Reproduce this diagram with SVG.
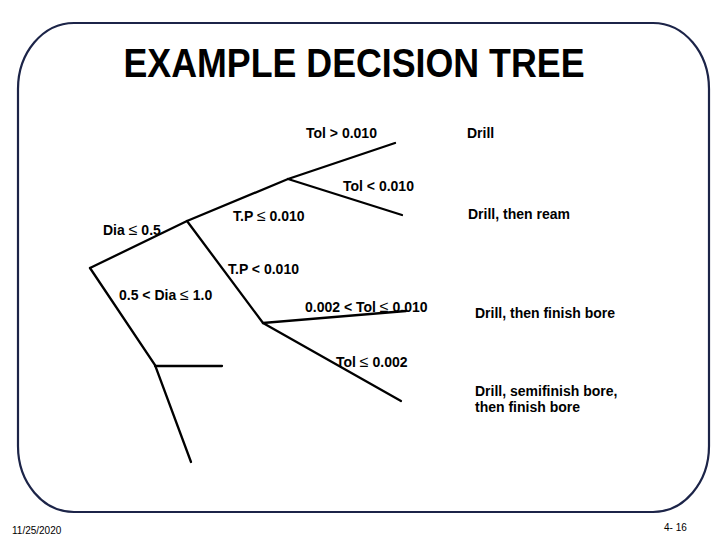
<svg xmlns="http://www.w3.org/2000/svg" width="719" height="539" viewBox="0 0 719 539">
<style>
.lbl{font-family:"Liberation Sans",Arial,sans-serif;font-size:14px;font-weight:bold;fill:#000}
.le{font-weight:normal;font-size:16px}
.edge{stroke:#000;stroke-width:2.3;fill:none;stroke-linecap:round}
.small{font-family:"Liberation Sans",Arial,sans-serif;font-size:10px;fill:#000}
</style>
<rect x="0" y="0" width="719" height="539" fill="#fff"/>
<rect x="18" y="23" width="691" height="489" rx="56" ry="66" fill="none" stroke="#1c2448" stroke-width="2.2"/>
<text x="354" y="77" text-anchor="middle" font-family="Liberation Sans,Arial,sans-serif" font-weight="bold" font-size="40" textLength="461" lengthAdjust="spacingAndGlyphs">EXAMPLE DECISION TREE</text>
<g id="connectors">
<polyline class="edge" points="90,268 187,221 288,179 395,143"/>
<line class="edge" x1="288" y1="179" x2="402" y2="215"/>
<polyline class="edge" points="187,221 263,323 406,311"/>
<line class="edge" x1="263" y1="323" x2="401" y2="401"/>
<polyline class="edge" points="90,268 155,365 191,462"/>
<line class="edge" x1="155" y1="366" x2="222" y2="366"/>
</g>
<g id="n-tol-gt"><text class="lbl" x="306" y="138">Tol &gt; 0.010</text></g>
<g id="n-drill"><text class="lbl" x="467" y="138">Drill</text></g>
<g id="n-tol-lt"><text class="lbl" x="343" y="191">Tol &lt; 0.010</text></g>
<g id="n-drill-ream"><text class="lbl" x="468" y="219">Drill, then ream</text></g>
<g id="n-tp-le"><text class="lbl" x="233" y="221">T.P <tspan class="le">≤</tspan>  0.010</text></g>
<g id="n-dia-le"><text class="lbl" x="103" y="235">Dia <tspan class="le">≤</tspan> 0.5</text></g>
<g id="n-tp-lt"><text class="lbl" x="228" y="274">T.P &lt; 0.010</text></g>
<g id="n-dia-mid"><text class="lbl" x="119" y="300">0.5 &lt; Dia <tspan class="le">≤</tspan> 1.0</text></g>
<g id="n-tol-mid"><text class="lbl" x="305" y="312">0.002 &lt; Tol <tspan class="le">≤</tspan> 0.010</text></g>
<g id="n-drill-finish"><text class="lbl" x="475" y="318">Drill, then finish bore</text></g>
<g id="n-tol-le"><text class="lbl" x="336" y="367">Tol <tspan class="le">≤</tspan> 0.002</text></g>
<g id="n-drill-semi"><text class="lbl" x="475" y="396">Drill, semifinish bore,</text><text class="lbl" x="475" y="412">then finish bore</text></g>
<text class="small" x="12" y="534">11/25/2020</text>
<text class="small" x="664" y="531">4- 16</text>
</svg>
